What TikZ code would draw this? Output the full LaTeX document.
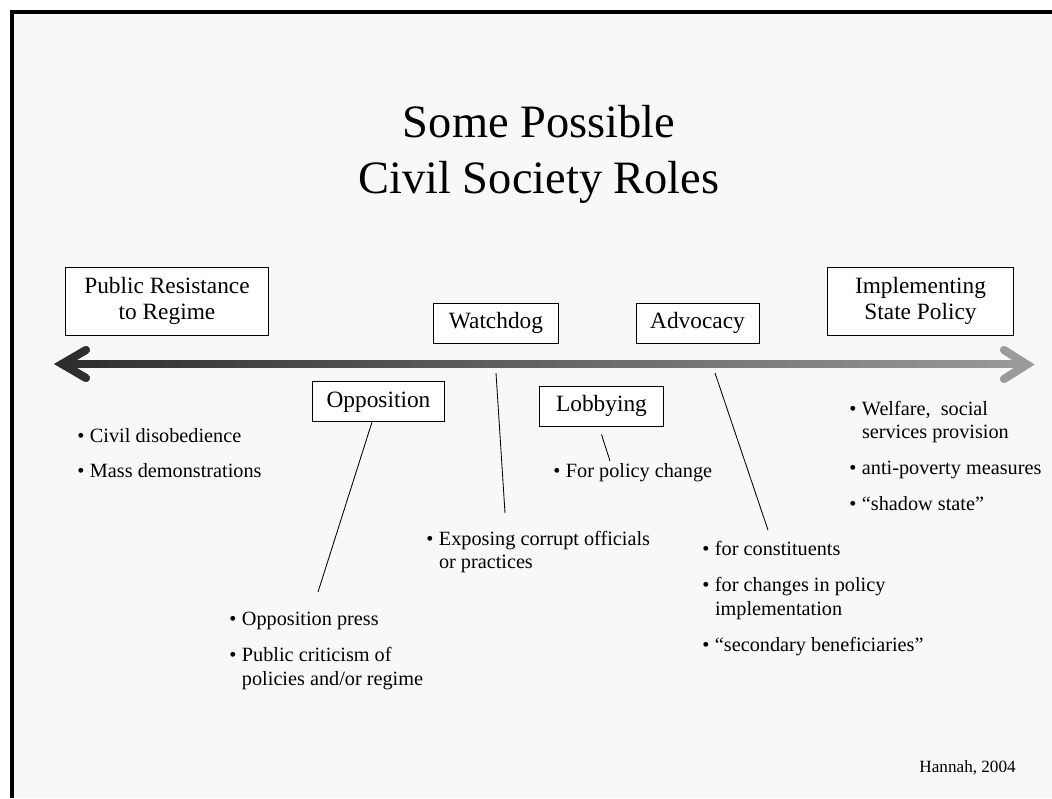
\documentclass[tikz,border=0pt]{standalone}
\usepackage{fontspec}
\setmainfont{Liberation Serif}
\usetikzlibrary{calc}

\definecolor{arrowdark}{HTML}{2E2E2E}
\definecolor{arrowlight}{HTML}{9A9A9A}
\definecolor{paper}{HTML}{F8F8F8}

\tikzset{
  rolebox/.style={draw=black,line width=0.7pt,fill=white,inner sep=1pt,
    minimum height=1cm,font=\fontsize{16.6}{18.5}\selectfont},
  points/.style={anchor=base west,inner sep=0pt,font=\fontsize{14.4}{17}\selectfont},
  leader/.style={black,line width=0.6pt}
}

\begin{document}
\begin{tikzpicture}[x=0.025cm,y=-0.025cm]
  \useasboundingbox (0,0) rectangle (1052,798);
  \fill[paper] (10,10) rectangle (1052,798);
  \fill[black] (10,10) rectangle (1052,14);
  \fill[black] (10,10) rectangle (14,798);

  % title
  \node[anchor=base,inner sep=0pt,font=\fontsize{33}{40.5}\selectfont] (title) at (539,137)
    {\begin{tabular}[t]{@{}c@{}}Some Possible\\Civil Society Roles\end{tabular}};

  % the scale
  \shade[left color=arrowdark,right color=arrowlight] (60,360.5) rectangle (1026,367.5);
  \draw[arrowdark,line width=5.8pt,line cap=round,line join=miter] (86,350) -- (62,364) -- (86,378);
  \draw[arrowlight,line width=5.8pt,line cap=round,line join=miter] (1004,350) -- (1027,364.5) -- (1004,379);

  % the two ends
  \node[rolebox,minimum width=5.05cm,minimum height=1.7cm] (resist) at (167,301)
    {\begin{tabular}{@{}c@{}}Public Resistance\\to Regime\end{tabular}};
  \node[rolebox,minimum width=4.625cm,minimum height=1.7cm] (statepol) at (920.5,301)
    {\begin{tabular}{@{}c@{}}Implementing\\State Policy\end{tabular}};

  % roles in between
  \foreach \nm/\x/\y/\w/\lbl in {watch/496/323/3.1/Watchdog,advo/697.5/323/3.075/Advocacy,
      oppo/378.5/401.5/3.275/Opposition,lobby/601.5/406/3.075/Lobbying}
    \node[rolebox,minimum width=\w cm,text height=11.5pt,text depth=3.5pt] (\nm) at (\x,\y) {\lbl};

  % bullet lists
  \node[points] (resistpts) at (77,442)
    {\begin{tabular}[t]{@{}l@{\hspace{4pt}}l@{}}
      \textbullet & Civil disobedience\\[8pt]
      \textbullet & Mass demonstrations
    \end{tabular}};
  \node[points] (lobbypts) at (553,477)
    {\begin{tabular}[t]{@{}l@{\hspace{4pt}}l@{}}
      \textbullet & For policy change
    \end{tabular}};
  \node[points] (watchpts) at (426,545)
    {\begin{tabular}[t]{@{}l@{\hspace{4pt}}l@{}}
      \textbullet & Exposing corrupt officials\\
                  & or practices
    \end{tabular}};
  \node[points] (oppopts) at (229,625)
    {\begin{tabular}[t]{@{}l@{\hspace{4pt}}l@{}}
      \textbullet & Opposition press\\[9pt]
      \textbullet & Public criticism of\\
                  & policies and/or regime
    \end{tabular}};
  \node[points] (statepts) at (849,415)
    {\begin{tabular}[t]{@{}l@{\hspace{4pt}}l@{}}
      \textbullet & Welfare,\ \ social\\
                  & services provision\\[8.5pt]
      \textbullet & anti-poverty measures\\[8.5pt]
      \textbullet & ``shadow state''
    \end{tabular}};
  \node[points] (advopts) at (702,555)
    {\begin{tabular}[t]{@{}l@{\hspace{4pt}}l@{}}
      \textbullet & for constituents\\[9pt]
      \textbullet & for changes in policy\\
                  & implementation\\[8.5pt]
      \textbullet & ``secondary beneficiaries''
    \end{tabular}};

  % leaders
  \coordinate (oppoEnd) at (318,592);
  \coordinate (lobbyEnd) at (610,461);
  \coordinate (watchTop) at (496,373);
  \coordinate (watchEnd) at (505,513);
  \coordinate (advoTop) at (715,373);
  \coordinate (advoEnd) at (768,530);
  \draw[leader] ([xshift=-4.6pt]oppo.south) -- (oppoEnd);
  \draw[leader] ([yshift=-5.7pt]lobby.south) -- (lobbyEnd);
  \draw[leader] (watchTop) -- (watchEnd);
  \draw[leader] (advoTop) -- (advoEnd);

  \node[anchor=base east,inner sep=0pt,font=\fontsize{12.2}{14}\selectfont] (source) at (1016,772) {Hannah, 2004};
\end{tikzpicture}
\end{document}
